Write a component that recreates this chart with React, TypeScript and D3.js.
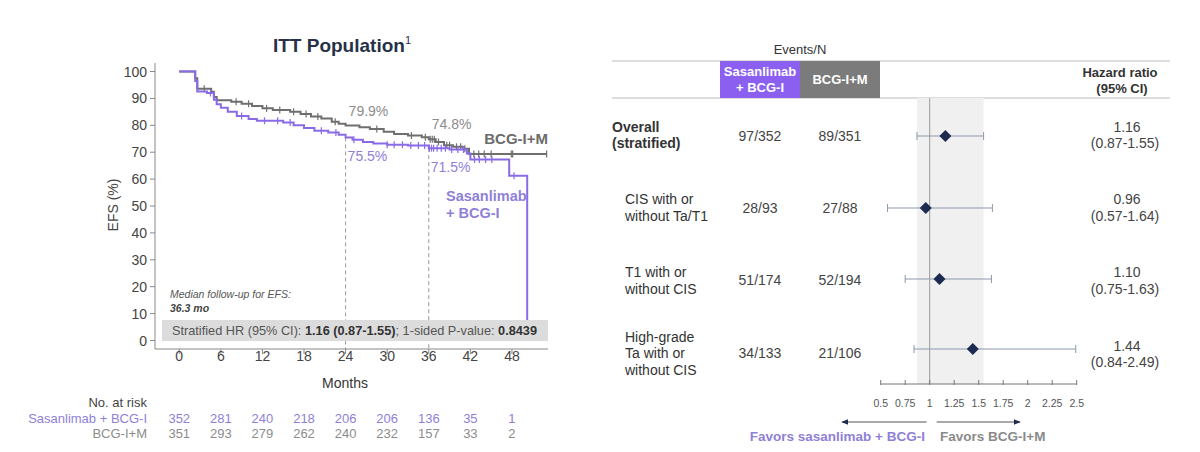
import React from 'react';
import * as d3 from 'd3';

// ---- KM data (months, EFS %) ----
const monthTicks = [0, 6, 12, 18, 24, 30, 36, 42, 48];
const efsTicks = [0, 10, 20, 30, 40, 50, 60, 70, 80, 90, 100];

const bcgTimes = [0, 2.3, 2.6, 4.6, 5.0, 5.4, 7.5, 9.0, 10.5, 12.0, 13.5, 16.0, 17.5, 19.0, 20.5, 22.0, 23.0, 24.0, 26.0, 27.5, 29.5, 31.0, 33.0, 35.0, 36.0, 37.0, 38.2, 39.5, 41.0, 41.8, 53.0];
const bcgSurv = [100, 97.5, 93.6, 92.5, 90.5, 89.3, 88.8, 88.0, 87.2, 86.3, 85.7, 85.0, 84.2, 83.3, 82.5, 81.3, 80.6, 79.9, 79.3, 78.6, 77.6, 76.8, 76.2, 75.6, 74.8, 73.8, 72.6, 72.0, 71.3, 69.3, 69.3];
const bcgCensor = [3.6, 8.2, 10.0, 12.6, 14.5, 16.5, 18.3, 20.0, 22.5, 28.5, 33.5, 35.5, 36.2, 36.5, 36.8, 37.4, 38.6, 39.0, 40.0, 40.6, 41.2, 42.5, 43.2, 44.0, 45.0, 47.9, 48.1, 53.0];

const sasTimes = [0, 2.3, 2.6, 4.0, 5.0, 5.4, 6.0, 7.0, 8.3, 10.0, 11.2, 15.0, 16.5, 18.0, 19.5, 21.5, 23.0, 24.0, 25.0, 26.5, 28.0, 30.0, 33.0, 36.0, 39.0, 41.5, 42.0, 47.6, 50.2];
const sasSurv = [100, 96.5, 92.6, 92.0, 89.5, 87.8, 86.5, 85.0, 83.5, 82.3, 81.7, 81.0, 80.0, 79.0, 78.0, 77.3, 76.5, 75.5, 74.6, 73.8, 73.2, 72.8, 72.5, 71.5, 71.0, 69.5, 67.3, 61.2, 0];
const sasCensor = [4.5, 9.0, 12.3, 14.2, 16.0, 20.5, 22.6, 25.2, 30.0, 31.0, 32.2, 33.4, 34.5, 35.4, 36.1, 36.4, 36.7, 37.2, 37.8, 38.4, 39.3, 40.2, 41.0, 42.6, 43.3, 44.2, 45.1, 48.3];

const landmarkMonths = [24, 36];
const bcgLandmark = [79.9, 74.8];
const sasLandmark = [75.5, 71.5];

const riskSas = [352, 281, 240, 218, 206, 206, 136, 35, 1];
const riskBcg = [351, 293, 279, 262, 240, 232, 157, 33, 2];

// ---- forest data ----
const subgroupLines = [
  ['Overall', '(stratified)'],
  ['CIS with or', 'without Ta/T1'],
  ['T1 with or', 'without CIS'],
  ['High-grade', 'Ta with or', 'without CIS'],
];
const sasEvents = ['97/352', '28/93', '51/174', '34/133'];
const bcgEvents = ['89/351', '27/88', '52/194', '21/106'];
const hrValues = [1.16, 0.96, 1.1, 1.44];
const ciLow = [0.87, 0.57, 0.75, 0.84];
const ciHigh = [1.55, 1.64, 1.63, 2.49];
const hrTicks = [0.5, 0.75, 1, 1.25, 1.5, 1.75, 2, 2.25, 2.5];

const PURPLE = '#8a6be6';
const PURPLE_TXT = '#8f7fd8';
const GRAY = '#6f6f6f';
const NAVY = '#1c2b4f';
const FONT = '"Liberation Sans", Arial, sans-serif';

const survAt = (times: number[], surv: number[], t: number) => {
  const i = d3.bisectRight(times, t) - 1;
  return surv[Math.max(0, i)];
};

const KMPanel = () => {
  const x = d3.scaleLinear().domain([-3.5, 53.2]).range([155, 548]);
  const y = d3.scaleLinear().domain([0, 100]).range([340.5, 71.5]);
  const axisY = 349;

  const step = d3
    .line<[number, number]>()
    .x((d) => x(d[0]))
    .y((d) => y(d[1]))
    .curve(d3.curveStepAfter);

  const bcgPath = step(bcgTimes.map((t, i) => [t, bcgSurv[i]]));
  const sasPath = step(sasTimes.map((t, i) => [t, sasSurv[i]]));

  const censor = (times: number[], surv: number[], marks: number[], color: string) =>
    marks.map((t, i) => {
      const v = survAt(times, surv, t);
      return <line key={i} x1={x(t)} x2={x(t)} y1={y(v) - 3.5} y2={y(v) + 3.5} stroke={color} strokeWidth={1.2} />;
    });

  return (
    <g fontFamily={FONT}>
      <text x={342} y={52} textAnchor="middle" fontSize={19} fontWeight="bold" fill="#263247">
        ITT Population<tspan fontSize={11} dy={-8} fontWeight="normal">1</tspan>
      </text>

      {/* axes */}
      <line x1={155} x2={155} y1={63} y2={axisY} stroke="#888" />
      <line x1={155} x2={548} y1={axisY} y2={axisY} stroke="#888" />
      {efsTicks.map((t) => (
        <g key={t}>
          <line x1={150} x2={155} y1={y(t)} y2={y(t)} stroke="#888" />
          <text x={147} y={y(t) + 5} textAnchor="end" fontSize={14} fill="#444">{t}</text>
        </g>
      ))}
      {monthTicks.map((t) => (
        <g key={t}>
          <line x1={x(t)} x2={x(t)} y1={axisY} y2={axisY + 5} stroke="#888" />
          <text x={x(t)} y={361} textAnchor="middle" fontSize={14} fill="#444">{t}</text>
        </g>
      ))}
      <text x={345} y={388} textAnchor="middle" fontSize={14} fill="#333">Months</text>
      <text transform="translate(118,205) rotate(-90)" textAnchor="middle" fontSize={14} fill="#444">EFS (%)</text>

      {/* landmark guides */}
      {landmarkMonths.map((m, i) => (
        <line key={m} x1={x(m)} x2={x(m)} y1={y(sasLandmark[i])} y2={axisY} stroke="#9a9a9a" strokeDasharray="4,3" />
      ))}

      <path d={bcgPath ?? ''} fill="none" stroke={GRAY} strokeWidth={2} />
      {censor(bcgTimes, bcgSurv, bcgCensor, GRAY)}
      <path d={sasPath ?? ''} fill="none" stroke={PURPLE} strokeWidth={2} />
      {censor(sasTimes, sasSurv, sasCensor, PURPLE)}

      {landmarkMonths.map((m, i) => (
        <g key={m} fontSize={14}>
          <text x={x(m) + 3} y={y(bcgLandmark[i]) - 10} fill="#8c8c8c">{bcgLandmark[i]}%</text>
          <text x={x(m) + 2} y={y(sasLandmark[i]) + 24} fill={PURPLE_TXT}>{sasLandmark[i]}%</text>
        </g>
      ))}

      <text x={548} y={144} textAnchor="end" fontSize={15} fontWeight="bold" fill="#6b6b6b">BCG-I+M</text>
      <text x={446} y={201} fontSize={14.5} fontWeight="bold" fill={PURPLE_TXT}>Sasanlimab</text>
      <text x={446} y={218} fontSize={14.5} fontWeight="bold" fill={PURPLE_TXT}>+ BCG-I</text>

      <text x={170} y={298} fontSize={10.5} fontStyle="italic" fill="#555">Median follow-up for EFS:</text>
      <text x={170} y={312} fontSize={10.5} fontStyle="italic" fontWeight="bold" fill="#444">36.3 mo</text>

      <rect x={162} y={320} width={386} height={21} fill="#dcdcdc" />
      <text x={172} y={335} fontSize={13} fill="#555" textLength={365} lengthAdjust="spacingAndGlyphs">
        Stratified HR (95% CI): <tspan fontWeight="bold" fill="#333">1.16 (0.87-1.55)</tspan>; 1-sided P-value:{' '}
        <tspan fontWeight="bold" fill="#333">0.8439</tspan>
      </text>

      {/* number at risk */}
      <text x={147} y={407} textAnchor="end" fontSize={13} fill="#444">No. at risk</text>
      <text x={147} y={423} textAnchor="end" fontSize={13} fill={PURPLE_TXT}>Sasanlimab + BCG-I</text>
      <text x={147} y={438} textAnchor="end" fontSize={13} fill="#8c8c8c">BCG-I+M</text>
      {monthTicks.map((m, i) => (
        <g key={m} fontSize={13} textAnchor="middle">
          <text x={x(m)} y={423} fill={PURPLE_TXT}>{riskSas[i]}</text>
          <text x={x(m)} y={438} fill="#8c8c8c">{riskBcg[i]}</text>
        </g>
      ))}
    </g>
  );
};

const ForestPanel = () => {
  const x = d3.scaleLinear().domain([0.5, 2.5]).range([880.7, 1076.7]);
  const rowY = [136, 208, 279, 349];
  const textY = [[127, 143], [199, 216], [272, 289], [337, 353, 370]];
  const hrTextY = [[127, 143], [199, 216], [272, 289], [346, 362]];
  const valueY = [136, 208, 280, 353];
  const axisY = 384;
  const d = 6;

  return (
    <g fontFamily={FONT}>
      <text x={800} y={54} textAnchor="middle" fontSize={13} fill="#333">Events/N</text>
      <line x1={612} x2={1170} y1={61} y2={61} stroke="#d2d2d2" strokeWidth={1.5} />
      <line x1={612} x2={1170} y1={98} y2={98} stroke="#d2d2d2" strokeWidth={1.5} />
      <rect x={720} y={61} width={80} height={37} fill="#8b5ff0" />
      <rect x={800} y={61} width={80} height={37} fill="#7b7b7b" />
      <text x={760} y={76} textAnchor="middle" fontSize={13} fontWeight="bold" fill="#fff">Sasanlimab</text>
      <text x={760} y={92} textAnchor="middle" fontSize={13} fontWeight="bold" fill="#fff">+ BCG-I</text>
      <text x={840} y={84} textAnchor="middle" fontSize={13} fontWeight="bold" fill="#fff">BCG-I+M</text>
      <text x={1120} y={77} textAnchor="middle" fontSize={13} fontWeight="bold" fill="#333">Hazard ratio</text>
      <text x={1122} y={93} textAnchor="middle" fontSize={13} fontWeight="bold" fill="#333">(95% CI)</text>

      {/* overall CI band and reference line */}
      <rect x={x(ciLow[0])} y={98} width={x(ciHigh[0]) - x(ciLow[0])} height={axisY - 98} fill="#f0f0f0" />
      <line x1={x(1)} x2={x(1)} y1={98} y2={axisY} stroke="#9a9a9a" />

      {subgroupLines.map((lines, i) => (
        <g key={i}>
          {lines.map((l, j) => (
            <text key={j} x={i === 0 ? 612 : 625} y={textY[i][j] + 5} fontSize={14} fontWeight={i === 0 ? 'bold' : 'normal'} fill="#333">{l}</text>
          ))}
          <text x={760} y={valueY[i] + 5} textAnchor="middle" fontSize={14} fill="#444">{sasEvents[i]}</text>
          <text x={840} y={valueY[i] + 5} textAnchor="middle" fontSize={14} fill="#444">{bcgEvents[i]}</text>
          <line x1={x(ciLow[i])} x2={x(ciHigh[i])} y1={rowY[i]} y2={rowY[i]} stroke="#8d98ad" />
          <line x1={x(ciLow[i])} x2={x(ciLow[i])} y1={rowY[i] - 4} y2={rowY[i] + 4} stroke="#8d98ad" />
          <line x1={x(ciHigh[i])} x2={x(ciHigh[i])} y1={rowY[i] - 4} y2={rowY[i] + 4} stroke="#8d98ad" />
          <path d={`M${x(hrValues[i])},${rowY[i] - d}L${x(hrValues[i]) + d},${rowY[i]}L${x(hrValues[i])},${rowY[i] + d}L${x(hrValues[i]) - d},${rowY[i]}Z`} fill={NAVY} />
          <text x={1127} y={hrTextY[i][0] + 5} textAnchor="middle" fontSize={14} fill="#444">{hrValues[i].toFixed(2)}</text>
          <text x={1125} y={hrTextY[i][1] + 5} textAnchor="middle" fontSize={14} fill="#444">
            ({ciLow[i].toFixed(2)}-{ciHigh[i].toFixed(2)})
          </text>
        </g>
      ))}

      {/* HR axis */}
      <line x1={x(0.5)} x2={x(2.5)} y1={axisY} y2={axisY} stroke="#777" />
      {hrTicks.map((t) => (
        <g key={t}>
          <line x1={x(t)} x2={x(t)} y1={axisY - 4} y2={axisY + 1} stroke="#777" />
          <text x={x(t)} y={407} textAnchor="middle" fontSize={10.5} fill="#555">{t}</text>
        </g>
      ))}

      <defs>
        <marker id="ah" viewBox="0 0 10 10" refX={9} refY={5} markerWidth={7} markerHeight={7} orient="auto-start-reverse">
          <path d="M0,1L10,5L0,9Z" fill={NAVY} />
        </marker>
      </defs>
      <line x1={926.7} x2={842} y1={422} y2={422} stroke="#555" markerEnd="url(#ah)" />
      <line x1={936.7} x2={1020} y1={422} y2={422} stroke="#555" markerEnd="url(#ah)" />
      <text x={925} y={441} textAnchor="end" fontSize={13.5} fontWeight="bold" fill={PURPLE_TXT}>Favors sasanlimab + BCG-I</text>
      <text x={940} y={441} fontSize={13.5} fontWeight="bold" fill="#8a8a8a">Favors BCG-I+M</text>
    </g>
  );
};

const App = () => (
  <svg width={1200} height={452} style={{ position: 'absolute', left: 0, top: 0, background: '#fff' }}>
    <KMPanel />
    <ForestPanel />
  </svg>
);

export default App;
